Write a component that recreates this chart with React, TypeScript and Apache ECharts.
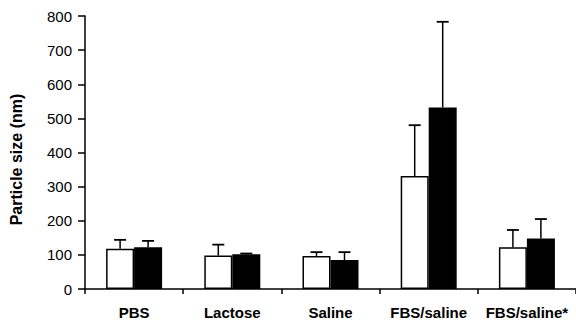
import React, { useEffect, useRef } from "react";
import * as echarts from "echarts";

const categories = ["PBS", "Lactose", "Saline", "FBS/saline", "FBS/saline*"];
const whiteMeans = [118, 98, 97, 331, 122];
const whiteUpper = [144, 130, 108, 480, 173];
const blackMeans = [122, 102, 85, 532, 148];
const blackUpper = [141, 104, 108, 783, 205];
const yTicks = { min: 0, max: 800, interval: 100 };

const FONT = "Liberation Sans, Arial, sans-serif";
const BAR_W = 28;

function errorSeries(means: number[], upper: number[], offset: number) {
  return {
    type: "custom",
    z: 5,
    data: means.map((m, i) => [i, m, upper[i]]),
    renderItem: (params: any, api: any) => {
      const i = api.value(0);
      const base = api.coord([i, api.value(1)]);
      const hi = api.coord([i, api.value(2)]);
      const x = base[0] + offset;
      const cap = 6;
      return {
        type: "group",
        children: [
          {
            type: "line",
            shape: { x1: x, y1: base[1], x2: x, y2: hi[1] },
            style: { stroke: "#000", lineWidth: 1.5 },
          },
          {
            type: "line",
            shape: { x1: x - cap, y1: hi[1], x2: x + cap, y2: hi[1] },
            style: { stroke: "#000", lineWidth: 1.8 },
          },
        ],
      };
    },
  };
}

export default function App() {
  const ref = useRef<HTMLDivElement>(null);
  useEffect(() => {
    const chart = echarts.init(ref.current!, null, { renderer: "svg" });
    chart.setOption({
      animation: false,
      backgroundColor: "#fff",
      grid: { left: 85, right: 0, top: 16, bottom: 33 },
      xAxis: {
        type: "category",
        data: categories,
        axisLine: { lineStyle: { color: "#000", width: 1.5 } },
        axisTick: { show: true, alignWithLabel: false, length: 5, lineStyle: { color: "#000", width: 1.5 } },
        axisLabel: { color: "#000", fontFamily: FONT, fontWeight: "bold", fontSize: 15, margin: 16, interval: 0 },
      },
      yAxis: {
        type: "value",
        min: yTicks.min,
        max: yTicks.max,
        interval: yTicks.interval,
        name: "Particle size (nm)",
        nameLocation: "middle",
        nameRotate: 90,
        nameGap: 61,
        nameTextStyle: { color: "#000", fontFamily: FONT, fontWeight: "bold", fontSize: 16, padding: [0, 14, 0, 0] },
        splitLine: { show: false },
        axisLine: { show: true, lineStyle: { color: "#000", width: 1.5 } },
        axisTick: { show: true, length: 7, lineStyle: { color: "#000", width: 1.5 } },
        axisLabel: { color: "#000", fontFamily: FONT, fontSize: 15, margin: 13 },
      },
      series: [
        {
          type: "bar",
          data: whiteMeans,
          barWidth: BAR_W,
          barGap: "0%",
          itemStyle: { color: "#fff", borderColor: "#000", borderWidth: 1.5 },
        },
        {
          type: "bar",
          data: blackMeans,
          barWidth: BAR_W,
          barGap: "0%",
          itemStyle: { color: "#000", borderColor: "#000", borderWidth: 1.5 },
        },
        errorSeries(whiteMeans, whiteUpper, -BAR_W / 2),
        errorSeries(blackMeans, blackUpper, BAR_W / 2),
      ],
    });
    return () => chart.dispose();
  }, []);
  return <div ref={ref} style={{ width: 576, height: 322, position: "absolute", left: 0, top: 0 }} />;
}
